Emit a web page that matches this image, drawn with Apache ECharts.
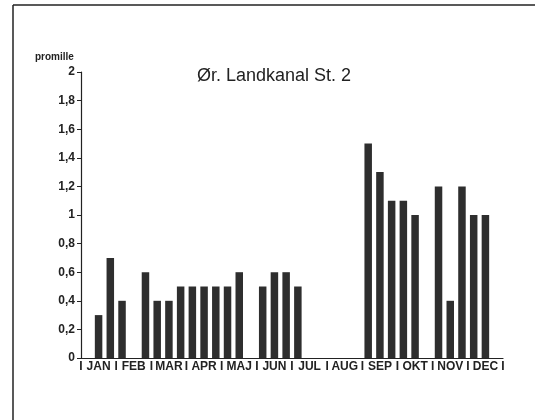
<!DOCTYPE html>
<html>
<head>
<meta charset="utf-8">
<script src="https://cdn.jsdelivr.net/npm/echarts@6/dist/echarts.min.js"></script>
<style>
  html, body { margin: 0; padding: 0; background: #fff; }
  #chart { width: 543px; height: 420px; }
</style>
</head>
<body>
<div id="chart"></div>
<script>
// 3 malinger pr. maaned, 36 pladser i alt
var months = ['JAN','FEB','MAR','APR','MAJ','JUN','JUL','AUG','SEP','OKT','NOV','DEC'];
var slots = [];
for (var i = 0; i < 36; i++) slots.push(String(i));
var separators = ['I','I','I','I','I','I','I','I','I','I','I','I','I'];
var values = [
  null, 0.3, 0.7,   0.4, null, 0.6,   0.4, 0.4, 0.5,   0.5, 0.5, 0.5,
  0.5, 0.6, null,   0.5, 0.6, 0.6,   0.5, null, null,  null, null, null,
  1.5, 1.3, 1.1,   1.1, 1.0, null,   1.2, 0.4, 1.2,   1.0, 1.0, null
];
var yTicks = {min: 0, max: 2, step: 0.2};

var chart = echarts.init(document.getElementById('chart'));
var font = 'Liberation Sans, Arial, sans-serif';

chart.setOption({
  animation: false,
  backgroundColor: '#fff',
  grid: { left: 81, right: 40, top: 72, bottom: 62 },
  graphic: [
    { type: 'line', shape: { x1: 13, y1: 5, x2: 13, y2: 420 }, style: { stroke: '#222', lineWidth: 1.5 } },
    { type: 'line', shape: { x1: 13, y1: 5, x2: 535, y2: 5 }, style: { stroke: '#222', lineWidth: 1.5 } },
    { type: 'text', left: 35, top: 52, style: { text: 'promille', font: 'bold 10px ' + font, fill: '#222' } },
    { type: 'text', left: 197, top: 67, style: { text: 'Ør. Landkanal St. 2', font: '18px ' + font, fill: '#222' } }
  ],
  xAxis: [
    {
      type: 'category', data: slots, position: 'bottom',
      axisLine: { lineStyle: { color: '#222', width: 1.2 } },
      axisTick: { interval: 0, length: 3, lineStyle: { color: '#222' } },
      axisLabel: { show: false }
    },
    {
      type: 'category', data: months, position: 'bottom',
      axisLine: { show: false }, axisTick: { show: false },
      axisLabel: { interval: 0, margin: 3, color: '#222', fontSize: 12, fontWeight: 'bold', fontFamily: font }
    },
    {
      type: 'category', data: separators, position: 'bottom', boundaryGap: false,
      axisLine: { show: false }, axisTick: { show: false },
      axisLabel: { interval: 0, margin: 3, color: '#222', fontSize: 12, fontWeight: 'bold', fontFamily: font }
    }
  ],
  yAxis: {
    type: 'value', min: yTicks.min, max: yTicks.max, interval: yTicks.step,
    splitLine: { show: false },
    axisLine: { show: true, lineStyle: { color: '#222', width: 1.2 } },
    axisTick: { show: true, length: 4, lineStyle: { color: '#222' } },
    axisLabel: {
      margin: 6, color: '#222', fontSize: 12, fontWeight: 'bold', fontFamily: font,
      formatter: function (v) { return String(Math.round(v * 10) / 10).replace('.', ','); }
    }
  },
  series: [{
    type: 'bar', xAxisIndex: 0, data: values,
    barWidth: 7.5,
    itemStyle: { color: '#2e2e2e' }
  }]
});
</script>
</body>
</html>
